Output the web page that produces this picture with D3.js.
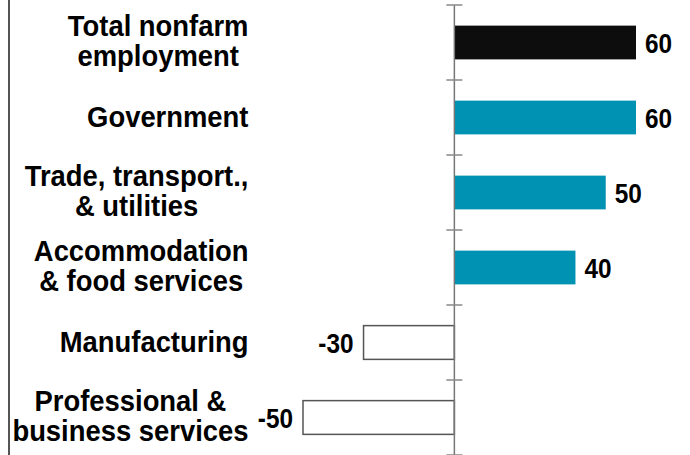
<!DOCTYPE html>
<html>
<head>
<meta charset="utf-8">
<script src="https://cdn.jsdelivr.net/npm/d3@7"></script>
<style>
  body { margin: 0; background: #fff; }
  svg text { font-family: "Liberation Sans", Arial, sans-serif; font-weight: bold; fill: #000; }
</style>
</head>
<body>
<div id="chart"></div>
<script>
// data
const categories = ['Total nonfarm employment', 'Government', 'Trade, transport., & utilities',
  'Accommodation & food services', 'Manufacturing', 'Professional & business services']
const labelLines = [
  ['Total nonfarm', 'employment'],
  ['Government'],
  ['Trade, transport.,', '& utilities'],
  ['Accommodation', '& food services'],
  ['Manufacturing'],
  ['Professional &', 'business services']
]
const values = [60, 60, 50, 40, -30, -50]
const kinds = ['total', 'up', 'up', 'up', 'down', 'down']

const W = 690
const H = 455
const colors = { total: '#0d0d0d', up: '#0092b3', down: '#fff' }
const LABEL_SX = 0.945 // text in the original is a little condensed
const VALUE_SX = 0.87

const svg = d3.select('#chart').append('svg')
  .attr('width', W)
  .attr('height', H)

const x = d3.scaleLinear()
  .domain([-50, 60])
  .range([303, 636])

const y = d3.scaleBand()
  .domain(categories)
  .range([5, 455])
  .paddingInner(0.55)
  .paddingOuter(0.275)

const step = y.step()
const bandTop = i => y(categories[i]) - step * 0.275

// left frame line
svg.append('line')
  .attr('x1', 9).attr('x2', 9)
  .attr('y1', 0).attr('y2', H)
  .attr('stroke', '#555')
  .attr('stroke-width', 2)

// bars
svg.append('g').selectAll('rect')
  .data(values)
  .join('rect')
  .attr('x', d => x(Math.min(0, d)))
  .attr('y', (d, i) => y(categories[i]))
  .attr('width', d => Math.abs(x(d) - x(0)))
  .attr('height', y.bandwidth())
  .attr('fill', (d, i) => colors[kinds[i]])
  .attr('stroke', (d, i) => kinds[i] === 'down' ? '#555' : 'none')
  .attr('stroke-width', 1.5)

// zero axis with ticks at band edges
svg.append('line')
  .attr('x1', x(0)).attr('x2', x(0))
  .attr('y1', bandTop(0)).attr('y2', H)
  .attr('stroke', '#777')
  .attr('stroke-width', 1.5)

svg.append('g').selectAll('line')
  .data(d3.range(categories.length + 1))
  .join('line')
  .attr('x1', x(0) - 8).attr('x2', x(0) + 8)
  .attr('y1', i => i < categories.length ? bandTop(i) : H)
  .attr('y2', i => i < categories.length ? bandTop(i) : H)
  .attr('stroke', '#888')
  .attr('stroke-width', 1.5)

// value labels
svg.append('g').selectAll('text')
  .data(values)
  .join('text')
  .attr('transform', (d, i) => {
    const tx = d >= 0 ? x(d) + 9 : x(d) - 10
    const ty = y(categories[i]) + y.bandwidth() / 2 + 10.5
    return `translate(${tx},${ty}) scale(${VALUE_SX},1)`
  })
  .attr('text-anchor', d => d >= 0 ? 'start' : 'end')
  .style('font-size', '28px')
  .text(d => d)

// category labels, lines centred, block right-aligned
const labels = svg.append('g')
labelLines.forEach((lines, i) => {
  const c = y(categories[i]) + y.bandwidth() / 2
  const t = labels.append('g').selectAll('text')
    .data(lines)
    .join('text')
    .attr('text-anchor', 'middle')
    .style('font-size', '29px')
    .text(d => d)
  let maxW = 0
  t.each(function () { maxW = Math.max(maxW, this.getComputedTextLength() * LABEL_SX) })
  t.attr('transform', (d, j) => {
    const ty = lines.length === 1 ? c + 9.5 : c - 7 + j * 30.5
    return `translate(${248.5 - maxW / 2},${ty}) scale(${LABEL_SX},1)`
  })
})
</script>
</body>
</html>
